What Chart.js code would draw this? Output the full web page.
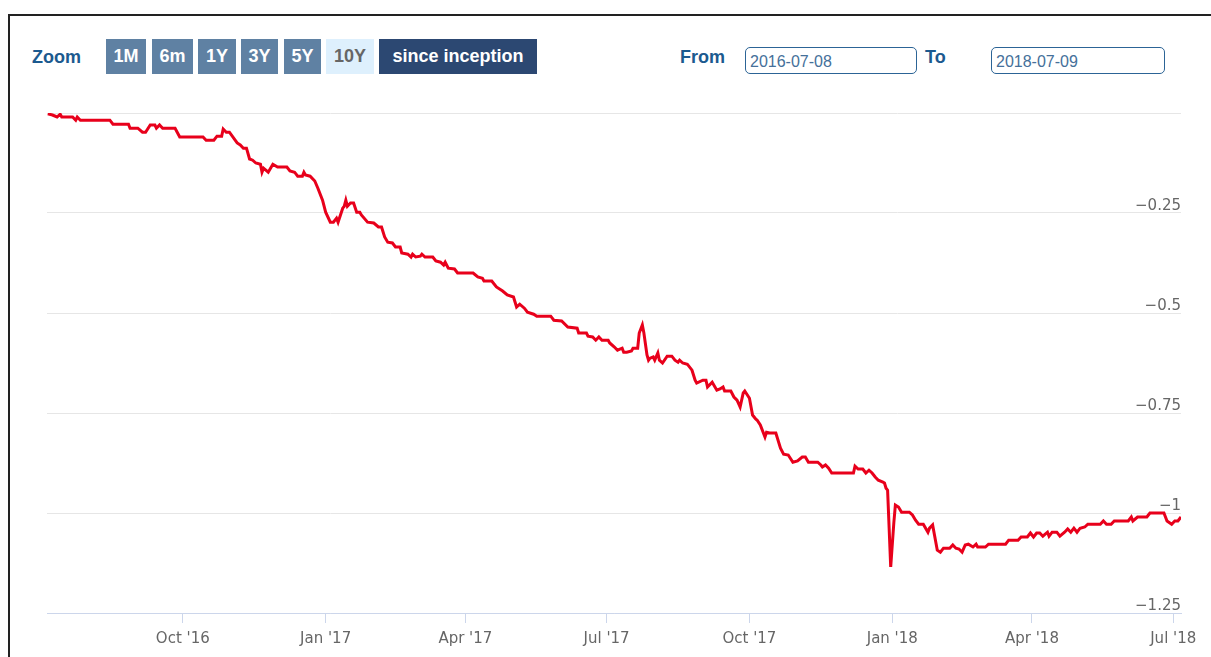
<!DOCTYPE html>
<html>
<head>
<meta charset="utf-8">
<script src="https://cdn.jsdelivr.net/npm/chart.js@4/dist/chart.umd.min.js"></script>
<style>
  html, body { margin: 0; padding: 0; background: #fff; width: 1211px; height: 657px; overflow: hidden; }
  body { position: relative; font-family: "Liberation Sans", Arial, sans-serif; }
  .frame { position: absolute; left: 8px; top: 14px; width: 1240px; height: 700px; border: 2px solid #222; box-sizing: border-box; }
  .lbl { position: absolute; font-weight: bold; font-size: 18px; color: #1c5a8f; }
  .btn { position: absolute; top: 39px; height: 35px; line-height: 35px; text-align: center; font-weight: bold; font-size: 18px; color: #fff; background: #5f81a3; }
  .btn.off { background: #def0fd; color: #666; }
  .btn.on { background: #2c4872; }
  .inp { position: absolute; top: 47px; height: 27px; line-height: 27px; border: 1.5px solid #2c6496; border-radius: 5px; box-sizing: border-box; font-size: 16px; color: #45709a; padding-left: 4px; }
  #wrap { position: absolute; left: 0; top: 95px; width: 1211px; height: 562px; }
</style>
</head>
<body>
<div class="frame"></div>
<div class="lbl" style="left:32px; top:47px;">Zoom</div>
<div class="btn" style="left:106px; width:40px;">1M</div>
<div class="btn" style="left:152px; width:41px;">6m</div>
<div class="btn" style="left:198px; width:38px;">1Y</div>
<div class="btn" style="left:241px; width:37px;">3Y</div>
<div class="btn" style="left:284px; width:37px;">5Y</div>
<div class="btn off" style="left:326px; width:48px;">10Y</div>
<div class="btn on" style="left:379px; width:158px;">since inception</div>
<div class="lbl" style="left:680px; top:47px;">From</div>
<div class="inp" style="left:745px; width:172px;">2016-07-08</div>
<div class="lbl" style="left:925px; top:47px;">To</div>
<div class="inp" style="left:991px; width:174px;">2018-07-09</div>
<div id="wrap"><canvas id="lineChart"></canvas></div>
<script>
// days counted from 2016-07-08
const days = [
  -2, 1, 4, 6, 7, 14, 16, 17, 19, 38, 40, 50, 51, 56, 59, 61, 64, 67, 68, 70, 72, 80, 83, 98, 100,
  105, 107, 110, 111, 113, 115, 120, 122, 124, 126, 128, 130, 132, 135, 136, 137, 140, 143, 146, 152,
  154, 157, 159, 162, 163, 164, 167, 170, 172, 175, 177, 180, 182, 184, 185, 188, 189, 190, 191, 193,
  195, 197, 199, 200, 204, 208, 211, 213, 215, 217, 220, 222, 225, 226, 230, 232, 233, 235, 238, 239,
  241, 246, 248, 251, 253, 254, 256, 260, 262, 272, 275, 278, 279, 284, 287, 291, 294, 298, 300, 302,
  305, 307, 311, 313, 322, 324, 329, 333, 339, 340, 345, 346, 349, 351, 353, 355, 359, 360, 363, 365,
  368, 369, 371, 374, 375, 378, 379, 381, 382, 384, 385, 386, 388, 389, 391, 392, 394, 397, 400, 402,
  404, 405, 407, 410, 413, 415, 416, 420, 422, 423, 426, 429, 431, 433, 434, 438, 440, 442, 444, 446,
  447, 450, 452, 454, 455, 457, 460, 461, 463, 467, 470, 472, 475, 478, 481, 484, 486, 488, 494, 496,
  497, 499, 501, 503, 517, 518, 520, 523, 525, 527, 529, 531, 533, 536, 537, 538, 539, 541, 543, 544,
  546, 548, 553, 555, 557, 559, 562, 565, 566, 568, 571, 573, 575, 579, 581, 583, 585, 587, 589, 591,
  594, 596, 597, 602, 604, 615, 617, 623, 625, 629, 631, 633, 635, 637, 639, 642, 643, 645, 648, 650,
  653, 655, 657, 659, 661, 663, 666, 668, 676, 678, 680, 683, 685, 694, 696, 697, 700, 706, 708, 717,
  719, 722, 724, 726, 728
];
const values = [
  -0.002, -0.005, -0.010, -0.003, -0.010, -0.010, -0.018, -0.010, -0.018, -0.018, -0.028, -0.028, -0.038, -0.038, -0.048, -0.048, -0.030, -0.030, -0.038, -0.030, -0.038, -0.038, -0.060, -0.060, -0.068,
  -0.068, -0.058, -0.058, -0.040, -0.048, -0.048, -0.075, -0.080, -0.088, -0.088, -0.115, -0.118, -0.125, -0.128, -0.148, -0.138, -0.148, -0.128, -0.135, -0.135,
  -0.145, -0.148, -0.158, -0.158, -0.148, -0.155, -0.158, -0.170, -0.188, -0.218, -0.248, -0.273, -0.273, -0.263, -0.273, -0.238, -0.233, -0.218, -0.233, -0.225,
  -0.225, -0.248, -0.248, -0.255, -0.273, -0.275, -0.285, -0.285, -0.310, -0.323, -0.325, -0.335, -0.335, -0.350, -0.353, -0.360, -0.353, -0.360, -0.358, -0.353,
  -0.360, -0.360, -0.370, -0.373, -0.380, -0.373, -0.388, -0.390, -0.400, -0.400, -0.410, -0.413, -0.420, -0.420, -0.435, -0.445, -0.455, -0.460, -0.485, -0.478,
  -0.488, -0.498, -0.503, -0.508, -0.508, -0.518, -0.520, -0.535, -0.538, -0.550, -0.550, -0.558, -0.560, -0.568, -0.560, -0.568, -0.568, -0.575, -0.585, -0.593,
  -0.588, -0.598, -0.598, -0.595, -0.588, -0.588, -0.550, -0.530, -0.550, -0.605, -0.618, -0.613, -0.610, -0.618, -0.600, -0.618, -0.625, -0.608, -0.608, -0.618,
  -0.623, -0.618, -0.625, -0.628, -0.643, -0.668, -0.675, -0.668, -0.668, -0.685, -0.673, -0.693, -0.690, -0.685, -0.695, -0.695, -0.710, -0.718, -0.735, -0.700,
  -0.695, -0.713, -0.755, -0.765, -0.768, -0.780, -0.810, -0.798, -0.800, -0.800, -0.838, -0.853, -0.855, -0.873, -0.870, -0.860, -0.860, -0.873, -0.873, -0.880,
  -0.885, -0.880, -0.888, -0.900, -0.900, -0.883, -0.890, -0.890, -0.900, -0.893, -0.900, -0.910, -0.918, -0.923, -0.925, -0.938, -0.943, -1.135, -1.025, -0.980,
  -0.985, -0.998, -0.998, -1.005, -1.018, -1.028, -1.028, -1.048, -1.038, -1.030, -1.093, -1.098, -1.088, -1.088, -1.080, -1.088, -1.090, -1.098, -1.080, -1.078,
  -1.085, -1.078, -1.085, -1.085, -1.078, -1.078, -1.068, -1.068, -1.060, -1.060, -1.050, -1.060, -1.050, -1.050, -1.058, -1.048, -1.058, -1.048, -1.048, -1.058,
  -1.048, -1.040, -1.048, -1.038, -1.048, -1.038, -1.035, -1.028, -1.028, -1.020, -1.028, -1.028, -1.020, -1.020, -1.010, -1.020, -1.010, -1.010, -1.000, -1.000,
  -1.020, -1.028, -1.020, -1.020, -1.010
];
const tickDays = [85, 177, 267, 358, 450, 542, 632, 723];
const tickLabels = ["Oct '16", "Jan '17", "Apr '17", "Jul '17", "Oct '17", "Jan '18", "Apr '18", "Jul '18"];

const points = days.map((d, i) => ({ x: d, y: values[i] }));

const myChart = new Chart("lineChart", {
    type: "line",
    data: {
        datasets: [{
            data: points,
            borderColor: "#e8001b",
            borderWidth: 3,
            pointRadius: 0,
            tension: 0,
            fill: false
        }]
    },
    options: {
        responsive: true,
        maintainAspectRatio: false,
        animation: false,
        layout: { padding: { left: 47, right: 30, top: 18, bottom: 2 } },
        plugins: {
            legend: { display: false },
            tooltip: { enabled: false }
        },
        scales: {
            x: {
                type: "linear",
                min: -2.5,
                max: 728,
                afterBuildTicks: (axis) => {
                    axis.ticks = tickDays.map((v) => ({ value: v }));
                },
                ticks: {
                    autoSkip: false,
                    maxRotation: 0,
                    padding: 7,
                    color: "#666",
                    font: { family: "DejaVu Sans", size: 15 },
                    callback: (v) => {
                        const i = tickDays.indexOf(v);
                        return i >= 0 ? tickLabels[i] : "";
                    }
                },
                grid: { drawOnChartArea: false, color: "#ccd6eb", tickLength: 10, lineWidth: 1 },
                border: { color: "#ccd6eb", width: 1 }
            },
            y: {
                position: "right",
                min: -1.25,
                max: 0,
                ticks: {
                    stepSize: 0.25,
                    mirror: true,
                    padding: 0,
                    labelOffset: -7,
                    color: "#666",
                    font: { family: "DejaVu Sans", size: 15 },
                    callback: (v) => (v === 0 ? "" : "\u2212" + String(Math.abs(v)))
                },
                grid: { color: "#e6e6e6", drawTicks: false, lineWidth: 1 },
                border: { display: false }
            }
        }
    }
});
</script>
</body>
</html>
